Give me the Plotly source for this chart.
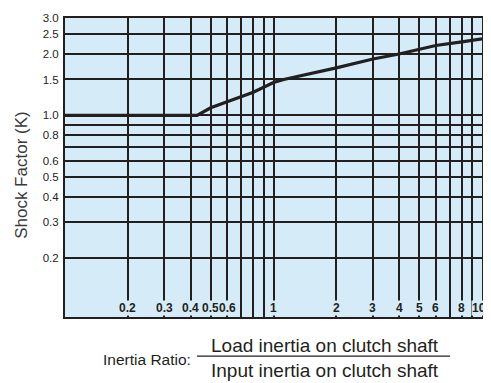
import math
import plotly.graph_objects as go

# shock factor curve
ratio = [0.1, 0.43, 0.5, 0.6, 0.7, 0.8, 1.0, 1.12, 2, 3, 4, 6, 8, 10]
factor = [1.0, 1.0, 1.09, 1.17, 1.24, 1.30, 1.45, 1.5, 1.71, 1.89, 2.0, 2.2, 2.29, 2.37]

x_grid = [0.2, 0.3, 0.4, 0.5, 0.6, 0.7, 0.8, 0.9, 1, 2, 3, 4, 5, 6, 7, 8, 9, 10]
x_labels = ['0.2', '0.3', '0.4', '0.5', '0.6', '', '', '', '1', '2', '3', '4', '5', '6', '', '8', '', '10']
y_grid = [0.2, 0.3, 0.4, 0.5, 0.6, 0.7, 0.8, 0.9, 1.0, 1.5, 2.0, 2.5, 3.0]
y_labels = ['0.2', '0.3', '0.4', '0.5', '0.6', '', '0.8', '', '1.0', '1.5', '2.0', '2.5', '3.0']

ink = '#231f20'
bg = '#d5ecf8'
font = 'Liberation Sans, Arial, sans-serif'

# plot area in page pixels (page has an 8px body margin)
L, R, T, B = 65, 482, 12, 317


def px(X, Y):
    return (X - L) / (R - L), (B - Y) / (B - T)


fig = go.Figure()
fig.add_trace(go.Scatter(x=ratio, y=factor, mode='lines',
                         line=dict(color=ink, width=3.2), showlegend=False))

# x tick labels sit inside the plot, masking the grid lines
for v, t in zip(x_grid, x_labels):
    if not t:
        continue
    fig.add_annotation(x=math.log10(v), y=0, xref='x', yref='paper',
                       text='<b>' + t + '</b>', showarrow=False,
                       yanchor='bottom', yshift=1, xshift=-3 if v == 10 else 0,
                       bgcolor=bg, borderpad=0,
                       font=dict(family=font, size=12, color=ink))


# axis titles
def label(X, Y, text, size, xanchor='center', angle=0, color=ink):
    xp, yp = px(X, Y)
    fig.add_annotation(x=xp, y=yp, xref='paper', yref='paper', text=text,
                       showarrow=False, xanchor=xanchor, yanchor='middle',
                       textangle=angle, font=dict(family=font, size=size, color=color))


label(193, 360, 'Inertia Ratio:', 15.5, xanchor='right')
label(325, 346, 'Load inertia on clutch shaft', 19)
label(325, 372, 'Input inertia on clutch shaft', 19)
label(22, 172, 'Shock Factor (K)', 17, angle=-90, color='#3a3a3a')

x0, y0 = px(197, 357)
x1, _ = px(450, 357)
fig.add_shape(type='line', xref='paper', yref='paper',
              x0=x0, x1=x1, y0=y0, y1=y0, line=dict(color=ink, width=1.2))

fig.update_xaxes(type='log', range=[-1, 1], tickvals=x_grid, showticklabels=False,
                 showgrid=True, gridcolor=ink, gridwidth=2, ticks='',
                 showline=True, linecolor=ink, linewidth=2, mirror=True, zeroline=False)
fig.update_yaxes(type='log', range=[math.log10(0.103), math.log10(3.0)],
                 tickvals=y_grid, ticktext=y_labels, ticklabelstandoff=2,
                 showgrid=True, gridcolor=ink, gridwidth=2, ticks='',
                 showline=True, linecolor=ink, linewidth=2, mirror=True, zeroline=False,
                 tickfont=dict(family=font, size=11.5, color=ink))

fig.update_layout(width=483, height=375, plot_bgcolor=bg, paper_bgcolor='white',
                  margin=dict(l=L - 8, r=491 - R, t=T - 8, b=383 - B))
fig.write_html('out.html')
